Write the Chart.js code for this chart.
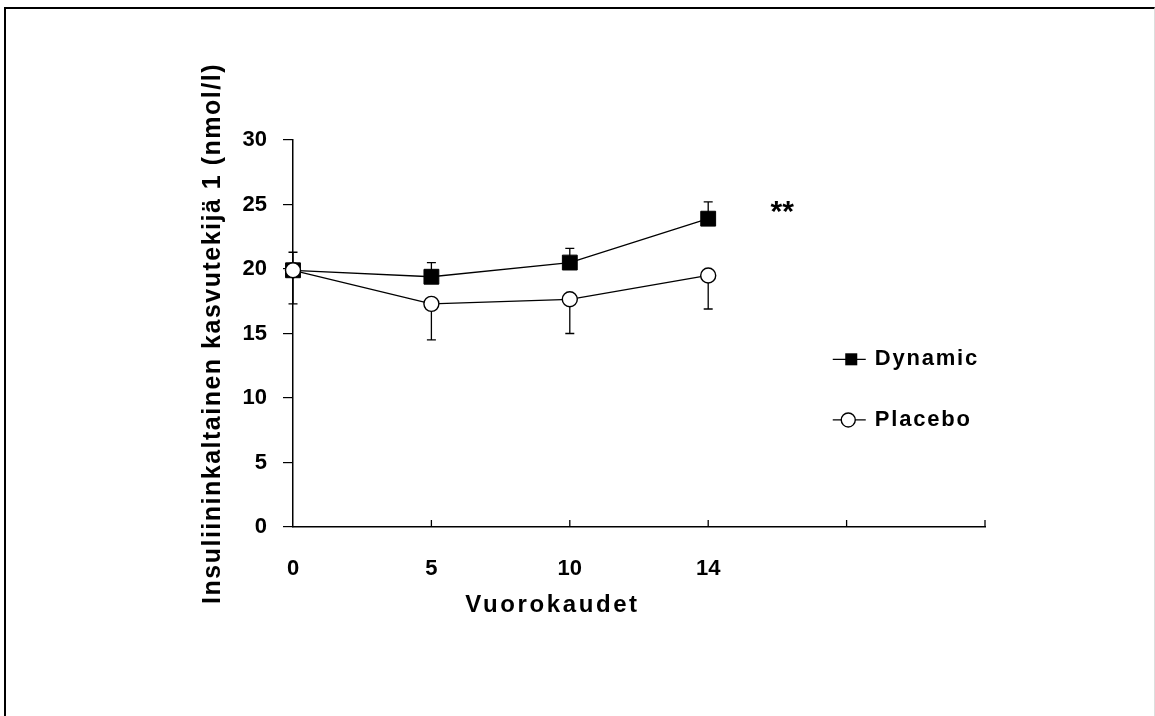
<!DOCTYPE html>
<html>
<head>
<meta charset="utf-8">
<script src="https://cdn.jsdelivr.net/npm/chart.js@4/dist/chart.umd.min.js"></script>
<style>
  html, body { margin: 0; padding: 0; background: #fff; }
  #wrap { position: relative; width: 1155px; height: 716px; }
  #frame {
    position: absolute; left: 4px; top: 7px; width: 1151px; height: 709px;
    border-left: 2px solid #000; border-top: 2px solid #000; border-right: 1px solid #ddd;
    box-sizing: border-box; pointer-events: none;
  }
  canvas { position: absolute; left: 0; top: 0; }
</style>
</head>
<body>
<div id="wrap">
  <canvas id="chart" width="1155" height="716"></canvas>
  <div id="frame"></div>
</div>
<script>
const days = ["0", "5", "10", "14", "", ""];
const dynamicMean = [19.9, 19.4, 20.5, 23.9];
const dynamicErr = [1.4, 1.1, 1.1, 1.3];
const placeboMean = [19.9, 17.3, 17.65, 19.5];
const placeboErr = [2.6, 2.8, 2.65, 2.6];
const yMin = 0;
const yMax = 30;
const yStep = 5;
const yTitle = "Insuliininkaltainen kasvutekijä 1 (nmol/l)";
const xTitle = "Vuorokaudet";
const seriesNames = ["Dynamic", "Placebo"];
const sigMark = "**";

const FONT = "'Liberation Sans', Arial, sans-serif";

function drawMarker(ctx, style, x, y, r) {
  ctx.save();
  ctx.lineWidth = 1.4;
  ctx.strokeStyle = "#000";
  if (style === "rect") {
    const s = Math.SQRT1_2 * r;
    ctx.fillStyle = "#000";
    ctx.fillRect(x - s, y - s, 2 * s, 2 * s);
  } else {
    ctx.fillStyle = "#fff";
    ctx.beginPath();
    ctx.arc(x, y, r, 0, Math.PI * 2);
    ctx.fill();
    ctx.stroke();
  }
  ctx.restore();
}

const decor = {
  id: "decor",
  beforeDatasetsDraw(chart) {
    const ctx = chart.ctx;
    const xs = chart.scales.x;
    const ys = chart.scales.y;
    ctx.save();
    ctx.strokeStyle = "#000";
    ctx.lineWidth = 1.3;
    chart.data.datasets.forEach((ds) => {
      ds.data.forEach((v, j) => {
        const x = xs.getPixelForValue(j);
        const y0 = ys.getPixelForValue(v);
        const y1 = ys.getPixelForValue(v + ds.errSign * ds.errors[j]);
        ctx.beginPath();
        ctx.moveTo(x, y0);
        ctx.lineTo(x, y1);
        ctx.moveTo(x - 4.5, y1);
        ctx.lineTo(x + 4.5, y1);
        ctx.stroke();
      });
    });
    ctx.restore();
  },
  afterDraw(chart) {
    const ctx = chart.ctx;
    const xs = chart.scales.x;
    const ys = chart.scales.y;
    const area = chart.chartArea;
    ctx.save();

    // inward tick marks on the x axis
    ctx.strokeStyle = "#000";
    ctx.lineWidth = 1.3;
    for (let i = 1; i < days.length; i++) {
      const x = xs.getPixelForValue(i);
      ctx.beginPath();
      ctx.moveTo(x, area.bottom);
      ctx.lineTo(x, area.bottom - 7);
      ctx.stroke();
    }

    ctx.fillStyle = "#000";

    // y title
    ctx.save();
    ctx.translate(area.left - 80, (area.top + area.bottom) / 2);
    ctx.rotate(-Math.PI / 2);
    ctx.font = "bold 25px " + FONT;
    ctx.letterSpacing = "1.5px";
    ctx.textAlign = "center";
    ctx.textBaseline = "middle";
    ctx.fillText(yTitle, 0, 0);
    ctx.restore();

    // x title
    ctx.font = "bold 24px " + FONT;
    ctx.letterSpacing = "2.6px";
    ctx.textAlign = "center";
    ctx.textBaseline = "middle";
    ctx.fillText(xTitle, area.left + (area.right - area.left) * 0.375, area.bottom + 78);

    // significance mark
    ctx.font = "bold 30px " + FONT;
    ctx.letterSpacing = "0px";
    ctx.textAlign = "left";
    ctx.textBaseline = "alphabetic";
    ctx.fillText(sigMark, xs.getPixelForValue(3.45), ys.getPixelForValue(23.75));

    // legend
    const lx0 = xs.getPixelForValue(3.9);
    const lx1 = lx0 + 33;
    const rows = [13.0, 8.3];
    chart.data.datasets.forEach((ds, i) => {
      const y = ys.getPixelForValue(rows[i]);
      ctx.strokeStyle = "#000";
      ctx.lineWidth = 1.3;
      ctx.beginPath();
      ctx.moveTo(lx0, y);
      ctx.lineTo(lx1, y);
      ctx.stroke();
      drawMarker(ctx, ds.pointStyle, (lx0 + lx1) / 2 + (i === 0 ? 2 : -1), y, i === 0 ? 8.5 : 7);
      ctx.fillStyle = "#000";
      ctx.font = "bold 22px " + FONT;
      ctx.letterSpacing = "1.8px";
      ctx.textAlign = "left";
      ctx.textBaseline = "middle";
      ctx.fillText(ds.label, lx1 + 9, y);
    });
    ctx.restore();
  }
};

new Chart(document.getElementById("chart").getContext("2d"), {
  type: "line",
  data: {
    labels: days,
    datasets: [
      {
        label: seriesNames[0],
        data: dynamicMean,
        errors: dynamicErr,
        errSign: 1,
        order: 1,
        borderColor: "#000",
        borderWidth: 1.3,
        pointStyle: "rect",
        pointRadius: 10.5,
        pointBackgroundColor: "#000",
        pointBorderColor: "#000",
        pointBorderWidth: 1,
        tension: 0
      },
      {
        label: seriesNames[1],
        data: placeboMean,
        errors: placeboErr,
        errSign: -1,
        order: 0,
        borderColor: "#000",
        borderWidth: 1.3,
        pointStyle: "circle",
        pointRadius: 7.5,
        pointBackgroundColor: "#fff",
        pointBorderColor: "#000",
        pointBorderWidth: 1.4,
        tension: 0
      }
    ]
  },
  options: {
    responsive: false,
    animation: false,
    devicePixelRatio: 1,
    layout: { padding: { left: 180, top: 140, right: 170, bottom: 0 } },
    plugins: {
      legend: { display: false },
      tooltip: { enabled: false }
    },
    scales: {
      x: {
        type: "category",
        offset: false,
        grid: { display: false, drawTicks: false },
        border: { display: true, color: "#000", width: 1.5 },
        ticks: {
          color: "#000",
          font: { family: FONT, size: 22, weight: "bold" },
          padding: 29,
          maxRotation: 0,
          autoSkip: false
        },
        afterFit(scale) { scale.height = 189; }
      },
      y: {
        min: yMin,
        max: yMax,
        grid: { display: true, drawOnChartArea: false, drawTicks: true, tickLength: 10, color: "#000", lineWidth: 1.2 },
        border: { display: true, color: "#000", width: 1.5 },
        ticks: {
          stepSize: yStep,
          color: "#000",
          font: { family: FONT, size: 22, weight: "bold" },
          padding: 16
        },
        afterFit(scale) { scale.width = 113; }
      }
    }
  },
  plugins: [decor]
});
</script>
</body>
</html>
